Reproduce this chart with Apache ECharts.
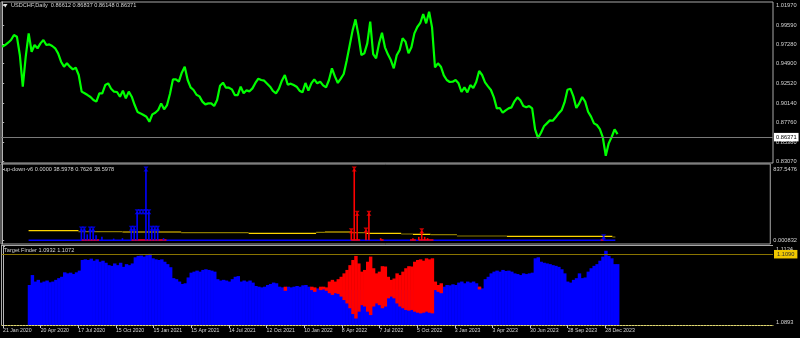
<!DOCTYPE html>
<html><head><meta charset="utf-8">
<script src="https://cdn.jsdelivr.net/npm/echarts@6/dist/echarts.min.js"></script>
<style>html,body{margin:0;padding:0;background:#000;}#c{width:800px;height:338px;}</style>
</head><body><div id="c"></div>
<script>
// ---- data (one sample = 5 trading days) ----
const DAY_STEP = 5;
const dateTickDays = [0,64,128,192,256,320,384,448,512,576,640,704,768,832,896,960,1024];
const dateLabels = ['21 Jan 2020','20 Apr 2020','17 Jul 2020','15 Oct 2020','15 Jan 2021','15 Apr 2021','14 Jul 2021','12 Oct 2021','10 Jan 2022','8 Apr 2022','7 Jul 2022','5 Oct 2022','3 Jan 2023','3 Apr 2023','30 Jun 2023','28 Sep 2023','28 Dec 2023'];

const price = [
0.9696,0.9716,0.9744,0.9777,0.9837,0.9817,0.9595,0.9211,0.9575,0.9857,
0.9635,0.9716,0.9676,0.9736,0.9777,0.9716,0.9724,0.9704,0.9676,0.9615,
0.9514,0.9454,0.9494,0.9454,0.9421,0.9441,0.9353,0.9151,0.9131,0.9110,
0.9086,0.9050,0.9030,0.9131,0.9131,0.9231,0.9252,0.9187,0.9151,0.9147,
0.9090,0.9163,0.9070,0.9151,0.9090,0.8989,0.8904,0.8888,0.8868,0.8848,
0.8787,0.8876,0.8896,0.8929,0.9009,0.8937,0.8989,0.9126,0.9300,0.9300,
0.9272,0.9381,0.9454,0.9292,0.9203,0.9171,0.9114,0.9094,0.9030,0.8997,
0.9009,0.9009,0.8977,0.9050,0.9223,0.9260,0.9199,0.9199,0.9179,0.9110,
0.9110,0.9211,0.9131,0.9167,0.9155,0.9191,0.9256,0.9308,0.9292,0.9284,
0.9248,0.9211,0.9159,0.9131,0.9187,0.9284,0.9353,0.9235,0.9248,0.9231,
0.9211,0.9163,0.9143,0.9256,0.9163,0.9252,0.9300,0.9252,0.9272,0.9227,
0.9203,0.9292,0.9433,0.9336,0.9256,0.9308,0.9365,0.9526,0.9708,0.9890,
1.0027,0.9837,0.9595,0.9615,0.9736,0.9999,0.9607,0.9555,0.9736,0.9865,
0.9688,0.9603,0.9534,0.9433,0.9591,0.9655,0.9797,0.9756,0.9615,0.9688,
0.9857,0.9934,0.9983,1.0092,0.9979,1.0120,0.9930,0.9445,0.9494,0.9454,
0.9349,0.9292,0.9268,0.9272,0.9292,0.9252,0.9147,0.9203,0.9143,0.9231,
0.9195,0.9268,0.9401,0.9353,0.9264,0.9215,0.9171,0.9082,0.8949,0.8953,
0.8896,0.8925,0.8949,0.8961,0.9034,0.9082,0.9046,0.8977,0.8961,0.8977,
0.8949,0.8694,0.8589,0.8654,0.8731,0.8767,0.8803,0.8799,0.8840,0.8888,
0.8925,0.9021,0.9175,0.9187,0.9094,0.8953,0.9009,0.9086,0.9030,0.8908,
0.8848,0.8767,0.8747,0.8698,0.8597,0.8375,0.8525,0.8602,0.8694,0.8637
];
const priceTicks = [1.0197,0.9959,0.9728,0.9490,0.9252,0.9014,0.8776,0.8538,0.8307];
const lastPrice = 0.86371;

// up-down-v6 pane
const udAxisVals = [0, 837.5476];
const udAxisLabels = ['0.000832', '837.5476'];
const udBaseStart = 9, udBaseEnd = 209, udBaseVal = 0;
const udUpIdx = [27,28,29,30,31,32,34,38,41,44,45,46,49,50,51,52,53,55,205];
const udUpVal = [133,133,70,133,133,60,42,20,25,141,141,336,837.5476,336,141,141,141,25,42];
const udUpMarkIdx = [27,28,30,31,44,45,46,47,48,49,50,51,52,53,49,205];
const udUpMarkVal = [133,133,133,133,141,141,336,336,336,336,336,141,141,141,837.5476,42];
const udDnIdx = [119,120,121,124,125,129,140,142,143,144,145];
const udDnVal = [113,837.5476,317,121,317,25,25,40,113,40,25];
const udDnMarkIdx = [119,120,121,124,125,143];
const udDnMarkVal = [113,837.5476,317,121,317,113];
const udDnBaseStart = [27,44,119,129,139,142,204];
const udDnBaseEnd   = [33,56,122,130,141,147,205];
const udDnBaseVal = 3;
const maStart = [9,26,41,61,84,107,110,119,124,136,140,146,155,172,208];
const maEnd   = [26,41,61,84,107,110,119,124,136,140,146,155,172,208,209];
const maVal   = [113,101,97.5,89,82,94,97.5,89,82,74,70,66,50.5,47,39];
const maBright= [1,0,1,0,1,0,1,0,1,0,1,0,0,1,0];

// Target Finder pane
const tfStart = 9;
const tfBlue = [
1.1010,1.1039,1.1020,1.1025,1.1017,1.1020,1.1023,1.1018,1.1020,1.1025,
1.1030,1.1034,1.1047,1.1044,1.1046,1.1042,1.1047,1.1052,1.1083,1.1085,
1.1083,1.1087,1.1081,1.1085,1.1078,1.1081,1.1075,1.1068,1.1066,1.1073,
1.1068,1.1075,1.1063,1.1071,1.1068,1.1073,1.1091,1.1095,1.1096,1.1093,
1.1097,1.1101,1.1088,1.1085,1.1083,1.1085,1.1078,1.1071,1.1062,1.1030,
1.1027,1.1020,1.1013,1.1015,1.1032,1.1046,1.1049,1.1052,1.1049,1.1054,
1.1056,1.1054,1.1052,1.1049,1.1027,1.1023,1.1025,1.1023,1.1020,1.1027,
1.1034,1.1036,1.1020,1.1023,1.1020,1.1023,1.1017,1.1007,1.1005,1.1003,
1.1005,1.1010,1.1013,1.1017,1.1015,1.1005,1.1003,1.1000,1.1005,1.1003,
1.1005,1.1007,1.1005,1.1009,1.1010,1.1005,1.1000,1.0997,1.1000,1.0998,
1.1000,1.1000,1.0998,1.0996,1.0998,1.0997,1.0995,1.0994,1.0995,1.0996,
1.0995,1.0994,1.0996,1.0995,1.0997,1.0995,1.0994,1.0996,1.0995,1.0996,
1.0995,1.0997,1.0998,1.0996,1.0997,1.0995,1.0996,1.0995,1.0994,1.0996,
1.0995,1.0996,1.0995,1.0994,1.0996,1.0995,1.0996,1.0995,1.1000,1.1003,
1.1000,1.1005,1.1010,1.1009,1.1012,1.1010,1.1017,1.1020,1.1015,1.1020,
1.1017,1.1020,1.1015,1.1005,1.1000,1.1027,1.1034,1.1044,1.1049,1.1052,
1.1049,1.1054,1.1051,1.1052,1.1049,1.1044,1.1042,1.1039,1.1044,1.1042,
1.1044,1.1046,1.1088,1.1091,1.1078,1.1075,1.1073,1.1071,1.1068,1.1066,
1.1063,1.1056,1.1044,1.1020,1.1017,1.1025,1.1030,1.1044,1.1030,1.1032,
1.1049,1.1059,1.1066,1.1071,1.1081,1.1093,1.1110,1.1095,1.1088,1.1071,
1.1071
];
const tfRedIdx  = [96,105,106,108,109,110,111,112,113,114,115,116,117,118,119,120,121,122,123,124,125,126,127,128,129,130,131,132,133,134,135,136,137,138,139,140,141,142,143,144,145,146,147,148,149,162];
const tfRedLow  = [1.0993,1.0995,1.0990,1.0995,1.0997,1.0993,1.0986,1.0981,1.0986,1.0984,1.0976,1.0966,1.0956,1.0942,1.0925,1.0912,1.0932,1.0951,1.0947,1.0932,1.0922,1.0947,1.0956,1.0951,1.0942,1.0947,1.0971,1.0976,1.0971,1.0956,1.0947,1.0942,1.0937,1.0935,1.0937,1.0932,1.0929,1.0927,1.0929,1.0932,1.0929,1.0927,1.0995,1.0990,1.0986,1.0997];
const tfRedHigh = [1.1005,1.1005,1.1003,1.1005,1.1005,1.1003,1.1020,1.1025,1.1020,1.1027,1.1034,1.1044,1.1054,1.1068,1.1083,1.1095,1.1073,1.1049,1.1054,1.1078,1.1093,1.1059,1.1044,1.1049,1.1065,1.1064,1.1034,1.1025,1.1029,1.1044,1.1039,1.1049,1.1059,1.1065,1.1064,1.1078,1.1083,1.1085,1.1081,1.1088,1.1085,1.1088,1.1020,1.1010,1.1015,1.1005];
const tfLevel = 1.1090;
const tfTicks = [1.0893, 1.1124];

// ---- build ----
const px = k => k * DAY_STEP;
const FONT = 'Liberation Sans';
const textC = '#d4d4d4';
const axisC = '#b4b4b4';
const XMIN = -2, XMAX = 1309;
const markSym = 'path://M0,0L10,0L6.2,5L10,10L0,10L3.8,5Z';

const priceData = price.map((v,i)=>[px(i), v]);
const maBrightData = [], maOliveData = [];
maStart.forEach((s,j)=>{
  const arr = maBright[j] ? maBrightData : maOliveData;
  arr.push([px(s), maVal[j]], [px(maEnd[j]), maVal[j]], [px(maEnd[j]) + 0.5, '-']);
});
const udBaseData = [[px(udBaseStart), udBaseVal], [px(udBaseEnd), udBaseVal]];
const udDnBaseData = [];
udDnBaseStart.forEach((s,j)=>{
  udDnBaseData.push([px(s), udDnBaseVal], [px(udDnBaseEnd[j]), udDnBaseVal], [px(udDnBaseEnd[j]) + 0.5, '-']);
});
const udUpData = udUpIdx.map((k,j)=>[px(k), udUpVal[j]]);
const udDnData = udDnIdx.map((k,j)=>[px(k), udDnVal[j]]);
const udUpMarkData = udUpMarkIdx.map((k,j)=>[px(k), udUpMarkVal[j]]);
const udDnMarkData = udDnMarkIdx.map((k,j)=>[px(k), udDnMarkVal[j]]);
// Target Finder rows: [x, from, to]
const tfBlueData = tfBlue.map((v,i)=>[px(tfStart + i), tfTicks[0], v]);
const tfRedData = tfRedIdx.map((k,j)=>[px(k), tfRedLow[j], tfRedHigh[j]]);

function makeSpan(color) {
  return function (params, api) {
    const x = api.value(0);
    const w = api.size([DAY_STEP, 0])[0] + 0.5;
    const p0 = api.coord([x, api.value(1)]);
    const p1 = api.coord([x, api.value(2)]);
    return {type: 'rect', shape: {x: p0[0] - w / 2, y: p1[1], width: w, height: p0[1] - p1[1]},
      style: {fill: color}};
  };
}

const lbl = (extra) => Object.assign({fontFamily: FONT, color: textC, fontSize: 5.7}, extra);

const chart = echarts.init(document.getElementById('c'), null, {renderer: 'canvas'});
chart.setOption({
  animation: false,
  backgroundColor: '#000000',
  title: [
    {text: 'USDCHF,Daily  0.86612 0.86837 0.86148 0.86371', left: 11, top: 2.5, padding: 0,
     textStyle: {fontFamily: FONT, fontSize: 5.6, fontWeight: 'normal', color: textC}},
    {text: 'up-down-v6 0.0000 38.5978 0.7626 38.5978', left: 4, top: 166, padding: 0,
     textStyle: {fontFamily: FONT, fontSize: 5.6, fontWeight: 'normal', color: textC}},
    {text: 'Target Finder 1.0932 1.1072', left: 4, top: 247.5, padding: 0,
     textStyle: {fontFamily: FONT, fontSize: 5.6, fontWeight: 'normal', color: textC}}
  ],
  graphic: [
    {type: 'polygon', shape: {points: [[3,4],[7.5,4],[5.25,7.5]]}, style: {fill: '#e0e0e0'}},
    {type: 'line', shape: {x1: 1, y1: 245.5, x2: 773, y2: 245.5}, style: {stroke: '#a8a8a8', lineWidth: 1}},
    {type: 'line', shape: {x1: 1.5, y1: 245, x2: 1.5, y2: 325}, style: {stroke: '#a8a8a8', lineWidth: 1}}
  ],
  grid: [
    {left: 1, right: 27, top: 2, height: 161, show: true, borderColor: '#a8a8a8', borderWidth: 1},
    {left: 1, right: 27, top: 164, height: 80, show: true, borderColor: '#a8a8a8', borderWidth: 1},
    {left: 1, right: 27, top: 246, height: 79, show: false}
  ],
  xAxis: [
    {gridIndex: 0, type: 'value', min: XMIN, max: XMAX, show: false},
    {gridIndex: 1, type: 'value', min: XMIN, max: XMAX, show: false},
    {gridIndex: 2, type: 'value', min: XMIN, max: XMAX, position: 'bottom',
     axisLine: {show: true, onZero: false, lineStyle: {color: '#e0d870', type: [2, 1], width: 1}},
     axisTick: {show: true, customValues: dateTickDays, length: 3, lineStyle: {color: '#c8c8c8'}},
     axisLabel: lbl({customValues: dateTickDays, fontSize: 5.2, align: 'left', margin: 3,
       formatter: v => dateLabels[dateTickDays.indexOf(v)]}),
     splitLine: {show: false}}
  ],
  yAxis: [
    {gridIndex: 0, type: 'value', position: 'right', min: 0.8287, max: 1.0237,
     axisLine: {show: true, lineStyle: {color: axisC}},
     axisTick: {show: true, customValues: priceTicks, length: 2, lineStyle: {color: axisC}},
     axisLabel: lbl({customValues: priceTicks, margin: 3, formatter: v => v.toFixed(5)}),
     splitLine: {show: false}},
    {gridIndex: 1, type: 'value', position: 'right', min: -43.5, max: 896.5,
     axisLine: {show: true, lineStyle: {color: axisC}},
     axisTick: {show: true, customValues: udAxisVals, length: 2, lineStyle: {color: axisC}},
     axisLabel: lbl({customValues: udAxisVals, margin: 3, formatter: v => udAxisLabels[udAxisVals.indexOf(v)]}),
     splitLine: {show: false}},
    {gridIndex: 2, type: 'value', position: 'right', min: tfTicks[0], max: tfTicks[1],
     axisLine: {show: true, lineStyle: {color: axisC}},
     axisTick: {show: true, customValues: tfTicks, length: 2, lineStyle: {color: axisC}},
     axisLabel: lbl({customValues: tfTicks, margin: 3, verticalAlignMinLabel: 'bottom', verticalAlignMaxLabel: 'top',
       formatter: v => v.toFixed(4)}),
     splitLine: {show: false}}
  ],
  series: [
    {type: 'line', xAxisIndex: 0, yAxisIndex: 0, data: priceData, showSymbol: false, symbol: 'none',
     lineStyle: {color: '#00ff00', width: 2.2}, z: 3,
     markLine: {silent: true, symbol: 'none', animation: false,
       lineStyle: {color: '#7a7a7a', width: 1, type: 'solid'},
       label: {position: 'end', distance: 1, formatter: lastPrice.toFixed(5), backgroundColor: '#ffffff',
         color: '#000000', fontFamily: FONT, fontSize: 5.7, padding: [1.5, 2, 1, 2]},
       data: [{yAxis: lastPrice}]}},
    {type: 'line', xAxisIndex: 1, yAxisIndex: 1, data: maBrightData, showSymbol: false, symbol: 'none',
     connectNulls: false, lineStyle: {color: '#ffd500', width: 1.2}, z: 2},
    {type: 'line', xAxisIndex: 1, yAxisIndex: 1, data: maOliveData, showSymbol: false, symbol: 'none',
     connectNulls: false, lineStyle: {color: '#8c7a00', width: 1.2}, z: 2},
    {type: 'line', xAxisIndex: 1, yAxisIndex: 1, data: udBaseData, showSymbol: false, symbol: 'none',
     lineStyle: {color: '#0000ff', width: 1.4}, z: 3},
    {type: 'line', xAxisIndex: 1, yAxisIndex: 1, data: udDnBaseData, showSymbol: false, symbol: 'none',
     connectNulls: false, lineStyle: {color: '#ff0000', width: 1.4}, z: 3},
    {type: 'bar', xAxisIndex: 1, yAxisIndex: 1, data: udUpData, barWidth: 1.6, barGap: '-100%',
     itemStyle: {color: '#0000ff'}, z: 4},
    {type: 'bar', xAxisIndex: 1, yAxisIndex: 1, data: udDnData, barWidth: 1.6, barGap: '-100%',
     itemStyle: {color: '#ff0000'}, z: 4},
    {type: 'scatter', xAxisIndex: 1, yAxisIndex: 1, data: udUpMarkData, symbol: markSym, symbolSize: [5, 5],
     itemStyle: {color: '#0000ff'}, z: 5},
    {type: 'scatter', xAxisIndex: 1, yAxisIndex: 1, data: udDnMarkData, symbol: markSym, symbolSize: [5, 5],
     itemStyle: {color: '#ff0000'}, z: 5},
    {type: 'custom', xAxisIndex: 2, yAxisIndex: 2, data: tfBlueData, renderItem: makeSpan('#0000ff'), clip: true,
     encode: {x: 0, y: [1, 2]}, z: 2},
    {type: 'custom', xAxisIndex: 2, yAxisIndex: 2, data: tfRedData, renderItem: makeSpan('#ff0000'), clip: true,
     encode: {x: 0, y: [1, 2]}, z: 3,
     markLine: {silent: true, symbol: 'none', animation: false,
       lineStyle: {color: '#8a7400', width: 1.2, type: 'solid'},
       label: {position: 'end', distance: 1, formatter: tfLevel.toFixed(4), backgroundColor: '#f0c800',
         color: '#303030', fontFamily: FONT, fontSize: 5.7, padding: [1.5, 3, 1, 3]},
       data: [{yAxis: tfLevel}]}}
  ]
});
</script></body></html>
